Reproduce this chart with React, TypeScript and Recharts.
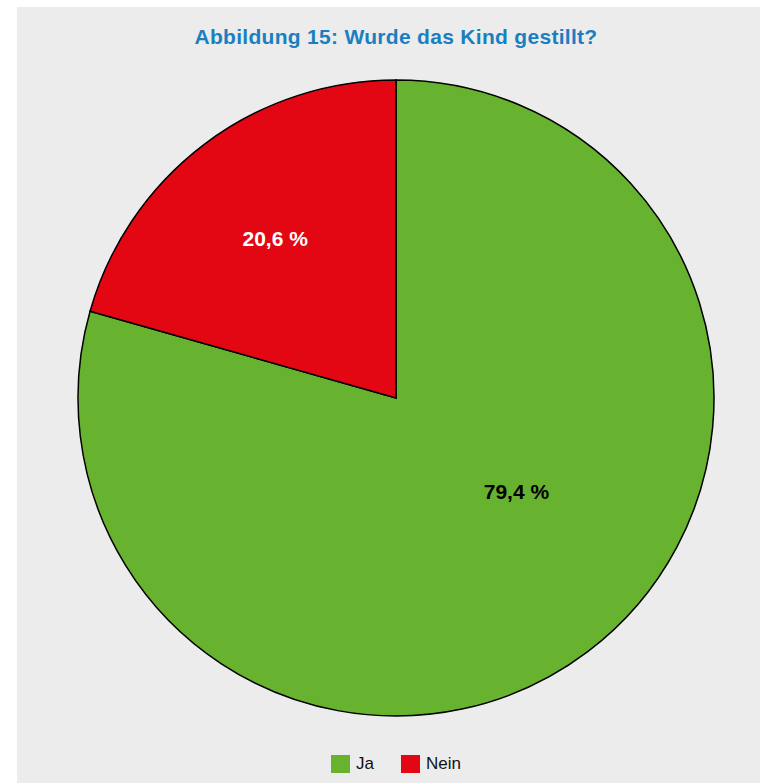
import { PieChart, Pie, Cell, Legend } from 'recharts'

const categories = ['Ja', 'Nein']
const shares = [79.4, 20.6]
const sliceColors = ['#67b330', '#e30613']
const labelColors = ['#000000', '#ffffff']

const data = categories.map((name, i) => ({ name, value: shares[i] }))

const RAD = Math.PI / 180

// label placement: fraction of radius and angle shift per slice
const labelRadius = [0.48, 0.63]
const labelShift = [15, 0]

function renderLabel(props: any) {
  const { cx, cy, midAngle, outerRadius, index, value } = props
  const r = outerRadius * labelRadius[index]
  const a = (midAngle + labelShift[index]) * RAD
  const x = cx + r * Math.cos(a)
  const y = cy - r * Math.sin(a)
  return (
    <text
      x={x}
      y={y}
      fill={labelColors[index]}
      textAnchor="middle"
      dominantBaseline="central"
      fontFamily="'Liberation Sans', Arial, sans-serif"
      fontWeight="bold"
      fontSize={21}
    >
      {`${value.toFixed(1).replace('.', ',')} %`}
    </text>
  )
}

function LegendBox() {
  return (
    <div
      style={{
        display: 'flex',
        justifyContent: 'center',
        gap: 27,
        fontFamily: "'Liberation Sans', Arial, sans-serif",
        fontSize: 17,
        color: '#111',
      }}
    >
      {categories.map((c, i) => (
        <div key={c} style={{ display: 'flex', alignItems: 'center', gap: 6 }}>
          <span style={{ width: 19, height: 18, background: sliceColors[i], display: 'inline-block' }} />
          <span>{c}</span>
        </div>
      ))}
    </div>
  )
}

export default function App() {
  return (
    <div
      style={{
        position: 'absolute',
        left: 17,
        top: 7,
        width: 743,
        height: 776,
        background: '#ececec',
      }}
    >
      <div
        style={{
          position: 'absolute',
          top: 18,
          left: 0,
          width: 758,
          textAlign: 'center',
          fontFamily: "'Liberation Sans', Arial, sans-serif",
          fontWeight: 'bold',
          fontSize: 21,
          letterSpacing: 0.3,
          color: '#1a7fc1',
        }}
      >
        Abbildung 15: Wurde das Kind gestillt?
      </div>
      <PieChart width={743} height={776}>
        <Pie
          data={data}
          dataKey="value"
          nameKey="name"
          cx={374}
          cy={386}
          outerRadius={318}
          startAngle={90}
          endAngle={-270}
          stroke="#000"
          strokeWidth={1.5}
          label={renderLabel}
          labelLine={false}
          isAnimationActive={false}
        >
          {data.map((d, i) => (
            <Cell key={d.name} fill={sliceColors[i]} />
          ))}
        </Pie>
        <Legend
          verticalAlign="bottom"
          content={() => <LegendBox />}
          wrapperStyle={{ bottom: 9, left: 0, width: 758 }}
        />
      </PieChart>
    </div>
  )
}
